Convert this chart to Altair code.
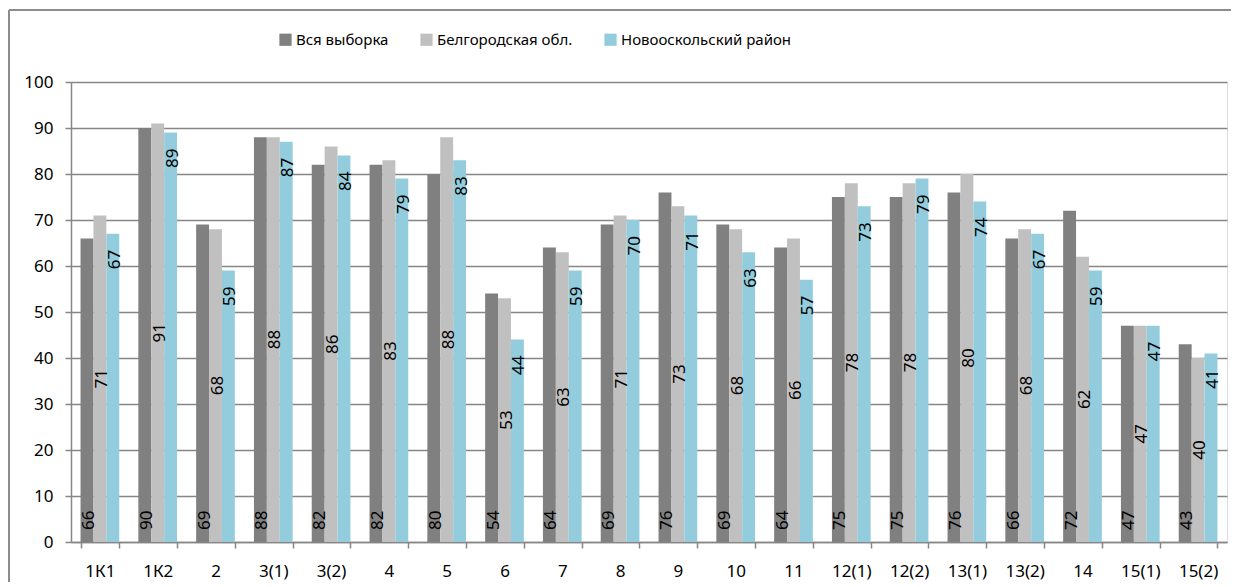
import altair as alt
import pandas as pd

categories = ["1К1", "1К2", "2", "3(1)", "3(2)", "4", "5", "6", "7", "8",
              "9", "10", "11", "12(1)", "12(2)", "13(1)", "13(2)", "14", "15(1)", "15(2)"]
series_names = ["Вся выборка", "Белгородская обл.", "Новооскольский район"]
vsya = [66, 90, 69, 88, 82, 82, 80, 54, 64, 69, 76, 69, 64, 75, 75, 76, 66, 72, 47, 43]
belgorod = [71, 91, 68, 88, 86, 83, 88, 53, 63, 71, 73, 68, 66, 78, 78, 80, 68, 62, 47, 40]
novooskol = [67, 89, 59, 87, 84, 79, 83, 44, 59, 70, 71, 63, 57, 73, 79, 74, 67, 59, 47, 41]
colors = ["#808080", "#C0C0C0", "#93CDDD"]

rows = []
for s, vals in zip(series_names, [vsya, belgorod, novooskol]):
    for c, v in zip(categories, vals):
        rows.append({"cat": c, "series": s, "value": v, "half": v / 2})
df = pd.DataFrame(rows)

FONT = "Noto Sans"
W, H = 1156, 460

base = alt.Chart(df)

x_enc = alt.X("cat:N", sort=categories, title=None,
              scale=alt.Scale(paddingInner=0.33, paddingOuter=0.165),
              axis=alt.Axis(labelAngle=0, tickBand="extent", tickSize=6,
                            labelPadding=15, labelFontSize=17, labelFont=FONT,
                            labelColor="#000000", domainColor="#868686",
                            tickColor="#868686", domainWidth=1.5, tickWidth=1.5))
xo = alt.XOffset("series:N", sort=series_names,
                 scale=alt.Scale(domain=series_names, paddingInner=0, paddingOuter=0))

bars = base.mark_bar().encode(
    x=x_enc,
    xOffset=xo,
    y=alt.Y("value:Q", title=None,
            scale=alt.Scale(domain=[0, 100], nice=False),
            axis=alt.Axis(values=list(range(0, 101, 10)), tickSize=6,
                          labelPadding=12, labelFontSize=17, labelFont=FONT,
                          labelColor="#000000", domainColor="#868686",
                          tickColor="#868686", gridColor="#868686",
                          gridWidth=1.5, domainWidth=1.5, tickWidth=1.5)),
    color=alt.Color("series:N", sort=series_names,
                    scale=alt.Scale(domain=series_names, range=colors),
                    legend=alt.Legend(title=None, orient="none", direction="horizontal",
                                      legendX=207, legendY=-50, symbolType="square",
                                      symbolSize=150, symbolStrokeWidth=0,
                                      labelFontSize=15, labelFont=FONT, labelLimit=500,
                                      labelColor="#000000", columnPadding=30,
                                      labelOffset=3)),
)

lbl_common = dict(angle=270, baseline="middle", fontSize=17, font=FONT, color="#000000", dy=2)

t1 = base.transform_filter(alt.datum.series == series_names[0]).mark_text(
    align="left", dx=12, **lbl_common
).encode(x=alt.X("cat:N", sort=categories), xOffset=xo,
         y=alt.datum(0), text="value:Q")

t2 = base.transform_filter(alt.datum.series == series_names[1]).mark_text(
    align="center", **lbl_common
).encode(x=alt.X("cat:N", sort=categories), xOffset=xo,
         y=alt.Y("half:Q"), text="value:Q")

t3 = base.transform_filter(alt.datum.series == series_names[2]).mark_text(
    align="right", dx=-16, **lbl_common
).encode(x=alt.X("cat:N", sort=categories), xOffset=xo,
         y=alt.Y("value:Q"), text="value:Q")

one = pd.DataFrame({"a": [0]})
frame_top = alt.Chart(one).mark_rule(stroke="#8c8c8c", strokeWidth=2).encode(
    x=alt.value(-62), x2=alt.value(W + 40), y=alt.value(-72))
frame_left = alt.Chart(one).mark_rule(stroke="#8c8c8c", strokeWidth=2).encode(
    x=alt.value(-62), y=alt.value(-72), y2=alt.value(H + 80))

chart = alt.layer(frame_top, frame_left, bars, t1, t2, t3).properties(
    width=W, height=H,
    autosize=alt.AutoSizeParams(type="none"),
    padding={"left": 63, "top": 74, "right": 4, "bottom": 40},
).configure_view(stroke=None).configure(background="#ffffff")

chart.save("out.html", embed_options={"renderer": "svg", "actions": False})
